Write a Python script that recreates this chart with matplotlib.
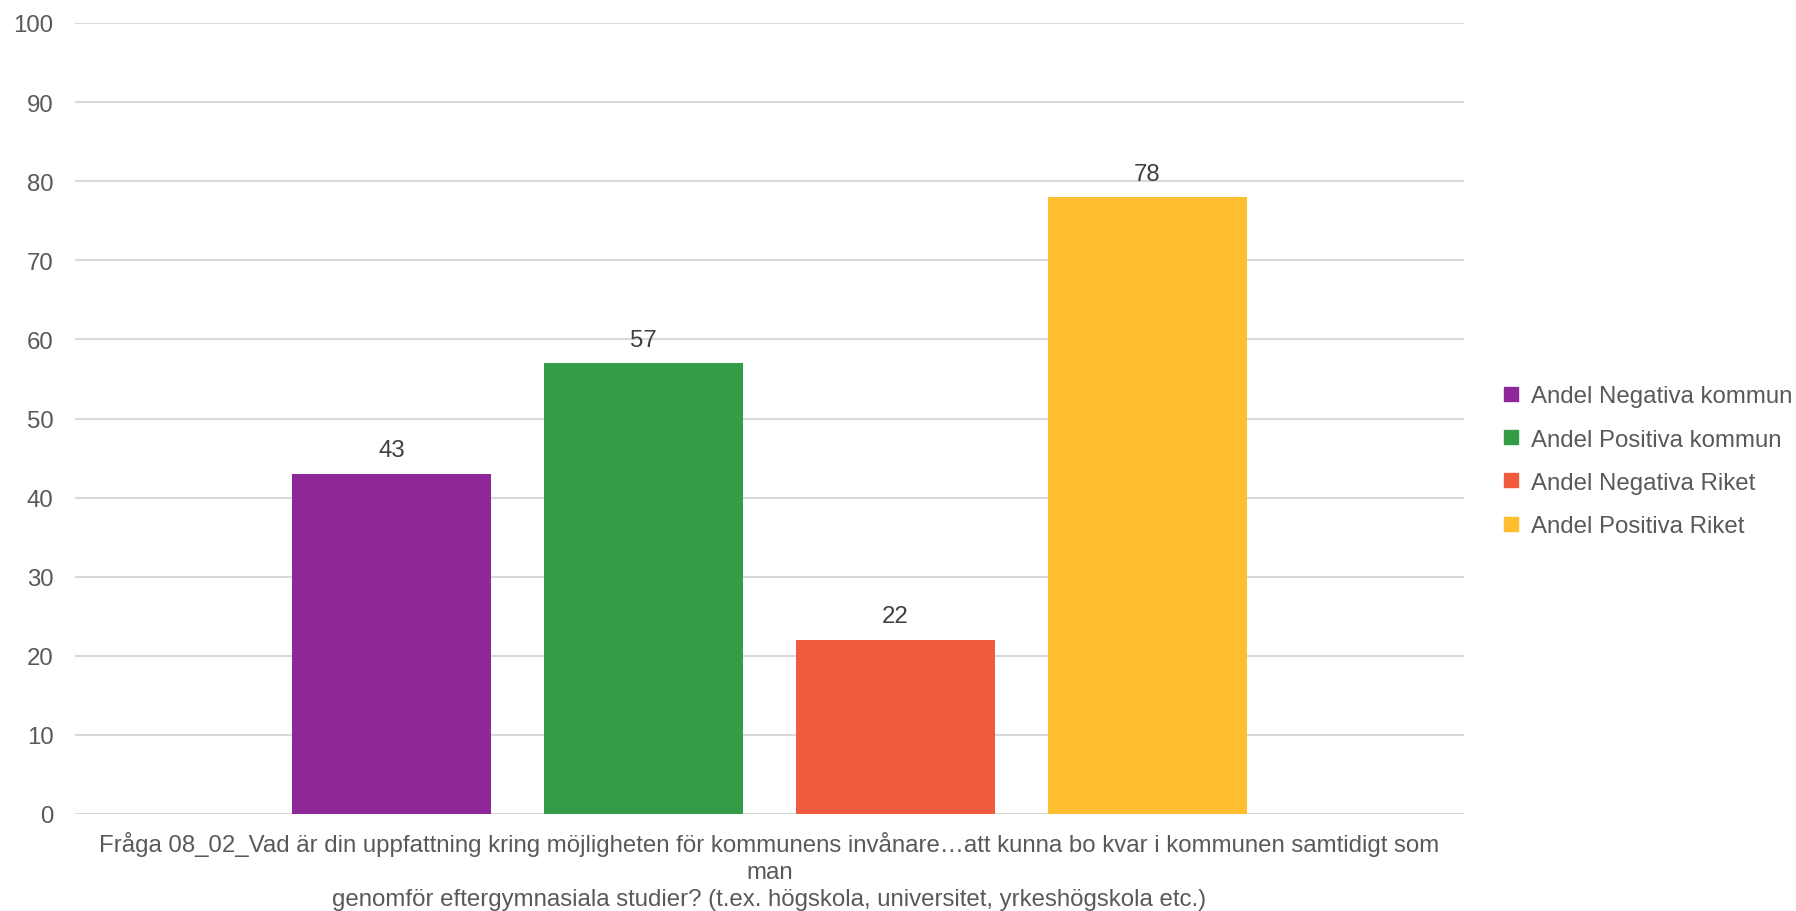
import matplotlib
matplotlib.use("Agg")
import matplotlib.pyplot as plt
from matplotlib.lines import Line2D

plt.rcParams["font.family"] = ["Liberation Sans", "DejaVu Sans"]

# data
category = ("Fråga 08_02_Vad är din uppfattning kring möjligheten för kommunens invånare…att kunna bo kvar i kommunen samtidigt som\n"
            "man\n"
            "genomför eftergymnasiala studier? (t.ex. högskola, universitet, yrkeshögskola etc.)")
series = ["Andel Negativa kommun", "Andel Positiva kommun", "Andel Negativa Riket", "Andel Positiva Riket"]
values = [43, 57, 22, 78]
colors = ["#8E2899", "#329C47", "#EF5B3C", "#FEBE2F"]
yticks = [0, 10, 20, 30, 40, 50, 60, 70, 80, 90, 100]

fs = 17.3
fig = plt.figure(figsize=(17.96, 9.12), dpi=100)
ax = fig.add_axes([75 / 1796, 97 / 912, (1464 - 75) / 1796, (815 - 24) / 912])

step = 0.1814
width = 0.1433
n = len(series)
for i, (name, v, c) in enumerate(zip(series, values, colors)):
    x = (i - (n - 1) / 2) * step
    bars = ax.bar([x], [v], width=width, color=c, label=name, zorder=3)
    ax.bar_label(bars, padding=9, fontsize=fs, color="#404040")

ax.set_xlim(-0.5, 0.5)
ax.set_ylim(0, 100)
ax.set_yticks(yticks)
ax.set_xticks([0])
ax.set_xticklabels([category], fontsize=fs, color="#595959", linespacing=1.3)
ax.tick_params(axis="y", length=0, pad=15.5, labelsize=fs, labelcolor="#595959")
ax.tick_params(axis="x", length=0, pad=12)
ax.grid(axis="y", color="#d9d9d9", linewidth=1.5, zorder=0)
for s in ax.spines.values():
    s.set_visible(False)

handles = [Line2D([], [], marker="s", linestyle="none", markersize=9.4, color=c) for c in colors]
ax.legend(handles, series, loc="center left", bbox_to_anchor=(1.0285, 0.446), frameon=False,
          fontsize=fs, labelcolor="#595959", handlelength=0.6, handletextpad=0.55,
          labelspacing=0.88, borderaxespad=0, borderpad=0)

fig.savefig("out.png", dpi=100)
